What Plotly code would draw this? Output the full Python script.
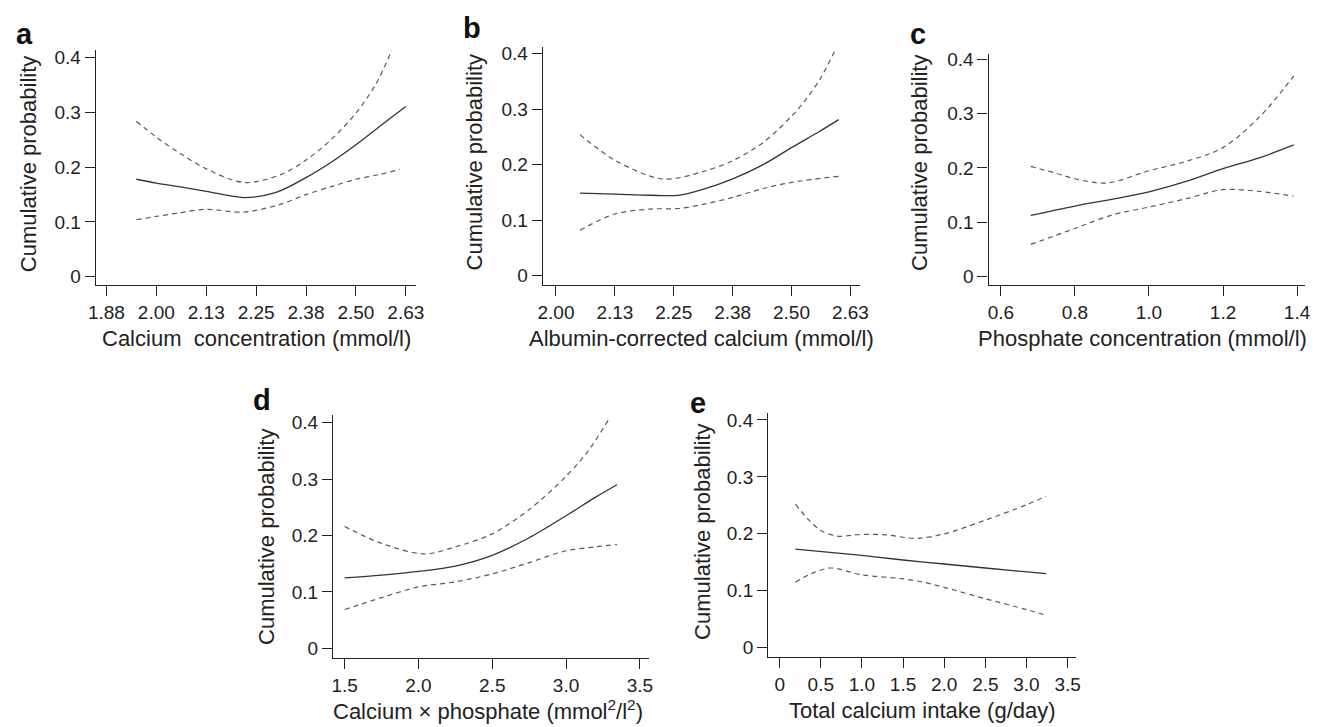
import plotly.graph_objects as go

# ---------------- data ----------------
# Panel a: calcium concentration
a_x = [1.95, 2.0, 2.06, 2.125, 2.22, 2.30, 2.375, 2.44, 2.5, 2.56, 2.625]
a_fit = [0.178, 0.171, 0.164, 0.156, 0.1445, 0.154, 0.181, 0.210, 0.241, 0.275, 0.311]
a_up_x = [1.95, 2.0, 2.06, 2.125, 2.22, 2.31, 2.375, 2.44, 2.5, 2.55, 2.59]
a_up = [0.284, 0.255, 0.225, 0.197, 0.172, 0.186, 0.213, 0.252, 0.299, 0.352, 0.414]
a_lo_x = [1.95, 2.0, 2.06, 2.125, 2.22, 2.31, 2.375, 2.44, 2.5, 2.56, 2.61]
a_lo = [0.104, 0.110, 0.117, 0.123, 0.118, 0.132, 0.150, 0.165, 0.178, 0.187, 0.196]
a_ticks = [1.875, 2.0, 2.125, 2.25, 2.375, 2.5, 2.625]
a_ticktext = ["1.88", "2.00", "2.13", "2.25", "2.38", "2.50", "2.63"]

# Panel b: albumin-corrected calcium
b_x = [2.051, 2.125, 2.2, 2.26, 2.31, 2.374, 2.44, 2.5, 2.56, 2.6]
b_fit = [0.1486, 0.147, 0.1448, 0.1448, 0.155, 0.174, 0.200, 0.2306, 0.260, 0.281]
b_up_x = [2.051, 2.125, 2.227, 2.31, 2.375, 2.44, 2.5, 2.53, 2.562, 2.594]
b_up = [0.254, 0.208, 0.174, 0.187, 0.207, 0.240, 0.287, 0.317, 0.356, 0.409]
b_lo_x = [2.051, 2.125, 2.2, 2.26, 2.31, 2.375, 2.44, 2.5, 2.6]
b_lo = [0.082, 0.111, 0.120, 0.121, 0.128, 0.141, 0.157, 0.168, 0.179]
b_ticks = [2.0, 2.125, 2.25, 2.375, 2.5, 2.625]
b_ticktext = ["2.00", "2.13", "2.25", "2.38", "2.50", "2.63"]

# Panel c: phosphate concentration
c_x = [0.681, 0.8, 0.9, 1.0, 1.1, 1.2, 1.3, 1.391]
c_fit = [0.1126, 0.1297, 0.142, 0.1559, 0.175, 0.1985, 0.219, 0.2423]
c_up_x = [0.681, 0.75, 0.8, 0.886, 1.0, 1.1, 1.2, 1.3, 1.391]
c_up = [0.2027, 0.190, 0.180, 0.172, 0.1948, 0.212, 0.2374, 0.295, 0.3696]
c_lo_x = [0.681, 0.8, 0.9, 1.0, 1.1, 1.2, 1.3, 1.39]
c_lo = [0.059, 0.0883, 0.113, 0.1278, 0.1431, 0.160, 0.1565, 0.148]
c_ticks = [0.6, 0.8, 1.0, 1.2, 1.4]
c_ticktext = ["0.6", "0.8", "1.0", "1.2", "1.4"]

# Panel d: calcium x phosphate
d_x = [1.5, 1.75, 2.0, 2.25, 2.5, 2.75, 3.0, 3.2, 3.345]
d_fit = [0.125, 0.130, 0.1365, 0.146, 0.165, 0.196, 0.235, 0.268, 0.290]
d_up_x = [1.5, 1.75, 2.04, 2.25, 2.5, 2.75, 3.0, 3.15, 3.29]
d_up = [0.216, 0.186, 0.1676, 0.180, 0.203, 0.246, 0.305, 0.350, 0.406]
d_lo_x = [1.5, 1.75, 2.0, 2.25, 2.5, 2.75, 3.0, 3.2, 3.345]
d_lo = [0.069, 0.090, 0.109, 0.118, 0.132, 0.152, 0.173, 0.180, 0.184]
d_ticks = [1.5, 2.0, 2.5, 3.0, 3.5]
d_ticktext = ["1.5", "2.0", "2.5", "3.0", "3.5"]

# Panel e: total calcium intake
e_x = [0.19, 1.0, 1.5, 2.0, 2.5, 3.24]
e_fit = [0.173, 0.162, 0.154, 0.147, 0.140, 0.130]
e_up_x = [0.19, 0.35, 0.5, 0.7, 1.0, 1.3, 1.66, 2.0, 2.5, 3.0, 3.24]
e_up = [0.252, 0.225, 0.206, 0.196, 0.199, 0.198, 0.192, 0.200, 0.224, 0.251, 0.266]
e_lo_x = [0.19, 0.4, 0.62, 1.0, 1.5, 1.75, 2.0, 2.5, 3.0, 3.24]
e_lo = [0.115, 0.131, 0.140, 0.128, 0.121, 0.115, 0.106, 0.086, 0.067, 0.057]
e_ticks = [0, 0.5, 1.0, 1.5, 2.0, 2.5, 3.0, 3.5]
e_ticktext = ["0", "0.5", "1.0", "1.5", "2.0", "2.5", "3.0", "3.5"]

y_ticks = [0, 0.1, 0.2, 0.3, 0.4]
y_ticktext = ["0", "0.1", "0.2", "0.3", "0.4"]

letters = ["a", "b", "c", "d", "e"]
x_titles = [
    "Calcium  concentration (mmol/l)",
    "Albumin-corrected calcium (mmol/l)",
    "Phosphate concentration (mmol/l)",
    "Calcium × phosphate (mmol<sup>2</sup>/l<sup>2</sup>)",
    "Total calcium intake (g/day)",
]
y_title = "Cumulative probability"

# ---------------- layout geometry (pixels) ----------------
W, H = 1331, 727
FONT = "Liberation Sans, Arial, Helvetica, sans-serif"
TXT = "#222222"

panels = [
    dict(x=a_x, fit=a_fit, ux=a_up_x, up=a_up, lx=a_lo_x, lo=a_lo, ticks=a_ticks, tt=a_ticktext,
         px=(89, 413), py=(46.7, 283.3), xr=(1.8486, 2.6498), yr=(-0.0145, 0.4138),
         xt=(251.7, 338), yt=(21.5, 161.5), lt=(17, 30)),
    dict(x=b_x, fit=b_fit, ux=b_up_x, up=b_up, lx=b_lo_x, lo=b_lo, ticks=b_ticks, tt=b_ticktext,
         px=(541.7, 862.7), py=(43.3, 283.3), xr=(1.972, 2.6447), yr=(-0.016, 0.412),
         xt=(702, 338), yt=(472, 160), lt=(470, 24)),
    dict(x=c_x, fit=c_fit, ux=c_up_x, up=c_up, lx=c_lo_x, lo=c_lo, ticks=c_ticks, tt=c_ticktext,
         px=(993.3, 1314), py=(50, 283.3), xr=(0.567, 1.422), yr=(-0.0152, 0.411),
         xt=(1149, 338), yt=(923.3, 161), lt=(921.7, 30)),
    dict(x=d_x, fit=d_fit, ux=d_up_x, up=d_up, lx=d_lo_x, lo=d_lo, ticks=d_ticks, tt=d_ticktext,
         px=(329.3, 649.3), py=(415, 660), xr=(1.4217, 3.562), yr=(-0.0163, 0.4135),
         xt=(486.7, 713), yt=(262.5, 538), lt=(257.5, 400)),
    dict(x=e_x, fit=e_fit, ux=e_up_x, up=e_up, lx=e_lo_x, lo=e_lo, ticks=e_ticks, tt=e_ticktext,
         px=(770, 1082.3), py=(413.3, 659.3), xr=(-0.14, 3.608), yr=(-0.0162, 0.4116),
         xt=(926.7, 713), yt=(704, 533), lt=(699, 403)),
]

fig = go.Figure()
layout = dict(
    width=W, height=H, margin=dict(l=0, r=0, t=0, b=0),
    paper_bgcolor="white", plot_bgcolor="white", showlegend=False,
    font=dict(family=FONT, color=TXT, size=19),
)
annotations = []

for i, p in enumerate(panels):
    k = "" if i == 0 else str(i + 1)
    xa, ya = "x" + k, "y" + k
    common = dict(xaxis=xa, yaxis=ya, mode="lines", hoverinfo="skip", line_shape="spline")
    fig.add_trace(go.Scatter(x=p["x"], y=p["fit"], line=dict(color="#333333", width=1.3, smoothing=0.9), **common))
    fig.add_trace(go.Scatter(x=p["ux"], y=p["up"], line=dict(color="#5a5a5a", width=1.2, dash="5px,4px", smoothing=0.9), **common))
    fig.add_trace(go.Scatter(x=p["lx"], y=p["lo"], line=dict(color="#5a5a5a", width=1.2, dash="5px,4px", smoothing=0.9), **common))

    axis_common = dict(showgrid=False, zeroline=False, showline=True, linecolor="#222222", linewidth=1.3,
                       ticks="outside", ticklen=10, tickwidth=1.2, tickcolor="#222222",
                       tickfont=dict(family=FONT, size=19, color=TXT), fixedrange=True)
    layout["xaxis" + k] = dict(
        domain=[p["px"][0] / W, p["px"][1] / W], range=list(p["xr"]), anchor=ya,
        tickmode="array", tickvals=p["ticks"], ticktext=p["tt"], **axis_common)
    layout["yaxis" + k] = dict(
        domain=[1 - p["py"][1] / H, 1 - p["py"][0] / H], range=list(p["yr"]), anchor=xa,
        tickmode="array", tickvals=y_ticks, ticktext=y_ticktext, **axis_common)

    annotations.append(dict(text=x_titles[i], x=p["xt"][0] / W, y=1 - p["xt"][1] / H, xref="paper", yref="paper",
                            xanchor="center", yanchor="middle", showarrow=False,
                            font=dict(family=FONT, size=22, color=TXT)))
    annotations.append(dict(text=y_title, x=p["yt"][0] / W, y=1 - p["yt"][1] / H, xref="paper", yref="paper",
                            xanchor="center", yanchor="middle", showarrow=False, textangle=-90,
                            font=dict(family=FONT, size=22, color=TXT)))
    annotations.append(dict(text="<b>" + letters[i] + "</b>", x=p["lt"][0] / W, y=1 - p["lt"][1] / H,
                            xref="paper", yref="paper", xanchor="center", yanchor="middle", showarrow=False,
                            font=dict(family=FONT, size=29, color="#111111")))

layout["annotations"] = annotations
fig.update_layout(**layout)
fig.write_html("out.html", config={"displayModeBar": False},
               post_script="document.body.style.margin='0';document.body.style.overflow='hidden';")
